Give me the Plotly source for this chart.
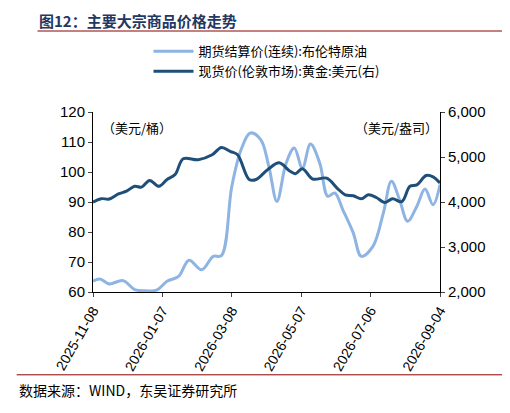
import pandas as pd
import plotly.graph_objects as go

# 期货结算价(连续):布伦特原油, 美元/桶
oil_days = [0, 6, 14, 26, 36, 45, 55, 64, 74, 83, 94, 104, 111, 120, 128, 136, 145, 152, 159, 167, 174, 181, 188, 196, 203, 209, 216, 225, 232, 242, 251, 258, 265, 272, 280, 287, 294, 300]
oil_vals = [63.6, 64.3, 62.7, 63.8, 60.8, 60.4, 60.6, 63.6, 65.2, 70.6, 67.4, 71.9, 72.1, 95.2, 107.4, 113.0, 110.8, 101.9, 90.2, 103.0, 108.0, 101.3, 109.3, 103.0, 91.9, 93.0, 87.4, 79.7, 71.9, 75.2, 86.3, 96.9, 90.8, 83.6, 88.6, 94.3, 89.1, 95.8]

# 现货价(伦敦市场):黄金:美元, 美元/盎司
gold_days = [0, 7, 14, 22, 29, 36, 42, 49, 57, 64, 71, 78, 91, 103, 111, 119, 125, 135, 141, 151, 161, 170, 175, 181, 190, 202, 211, 218, 225, 232, 238, 245, 252, 259, 267, 274, 280, 288, 294, 300]
gold_vals = [3993, 4073, 4067, 4180, 4240, 4350, 4330, 4480, 4350, 4500, 4610, 4960, 4940, 5050, 5210, 5120, 5050, 4500, 4500, 4720, 4870, 4690, 4630, 4740, 4510, 4530, 4310, 4160, 4140, 4070, 4160, 4100, 3990, 4070, 4010, 4350, 4380, 4590, 4560, 4420]

tick_dates = ["2025-11-08", "2026-01-07", "2026-03-08", "2026-05-07", "2026-07-06", "2026-09-04"]

start = pd.Timestamp("2025-11-08")
oil_x = [start + pd.Timedelta(days = d) for d in oil_days]
gold_x = [start + pd.Timedelta(days = d) for d in gold_days]

font = "Noto Sans CJK SC"

fig = go.Figure()
fig.add_trace(go.Scatter(
    x = oil_x, y = oil_vals, name = "期货结算价(连续):布伦特原油",
    mode = "lines", line = dict(color = "#8EB4E3", width = 3, shape = "spline"),
))
fig.add_trace(go.Scatter(
    x = gold_x, y = gold_vals, name = "现货价(伦敦市场):黄金:美元(右)",
    mode = "lines", line = dict(color = "#1F4E79", width = 3, shape = "spline"),
    yaxis = "y2",
))

fig.update_layout(
    width = 510, height = 413,
    paper_bgcolor = "white", plot_bgcolor = "white",
    margin = dict(l = 85, r = 78, t = 104, b = 129),
    font = dict(family = font, size = 13, color = "black"),
    showlegend = True,
    legend = dict(orientation = "v", x = 0.5, xanchor = "center", y = 1.42, yanchor = "top",
                  font = dict(size = 13), tracegroupgap = 14, itemwidth = 40),
    xaxis = dict(
        range = [start, pd.Timestamp("2026-09-04")],
        tickvals = tick_dates, ticktext = tick_dates, tickangle = -60,
        showgrid = False, showline = True, linecolor = "black", ticks = "outside",
        ticklen = 4, tickfont = dict(family = "Liberation Sans", size = 14),
    ),
    yaxis = dict(
        range = [60, 120], dtick = 10, showgrid = False, showline = True,
        linecolor = "black", ticks = "outside", ticklen = 4,
        tickfont = dict(family = "Liberation Sans", size = 15),
    ),
    yaxis2 = dict(
        range = [2000, 6000], dtick = 1000, overlaying = "y", side = "right",
        showgrid = False, showline = True, linecolor = "black", ticks = "outside",
        ticklen = 4, tickformat = ",", tickfont = dict(family = "Liberation Sans", size = 15),
    ),
)

fig.add_annotation(text = "<b>图12：主要大宗商品价格走势</b>", xref = "paper", yref = "paper",
                   x = -0.16, y = 1.0, yanchor = "top", showarrow = False,
                   font = dict(size = 15, color = "#1F3864"), yshift = 104, xanchor = "left")
fig.add_annotation(text = "（美元/桶）", xref = "paper", yref = "paper", x = 0.02, y = 0.98,
                   xanchor = "left", yanchor = "top", showarrow = False, font = dict(size = 13))
fig.add_annotation(text = "（美元/盎司）", xref = "paper", yref = "paper", x = 1.0, y = 0.98,
                   xanchor = "right", yanchor = "top", showarrow = False, font = dict(size = 13))
fig.add_annotation(text = "数据来源：WIND，东吴证券研究所", xref = "paper", yref = "paper",
                   x = -0.22, y = 0, yshift = -86, xanchor = "left", yanchor = "top",
                   showarrow = False, font = dict(size = 14))

fig.add_shape(type = "line", xref = "paper", yref = "paper", x0 = -0.16, x1 = 1.2,
              y0 = 1.45, y1 = 1.45, line = dict(color = "#8B0000", width = 1))
fig.add_shape(type = "line", xref = "paper", yref = "paper", x0 = -0.22, x1 = 1.2,
              y0 = -0.46, y1 = -0.46, line = dict(color = "#8B0000", width = 1))

fig.write_html("out.html")
